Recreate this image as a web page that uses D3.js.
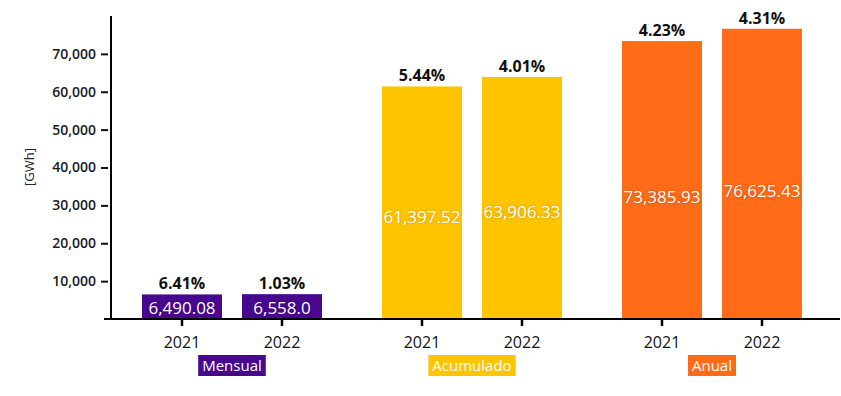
<!DOCTYPE html>
<html><head><meta charset="utf-8">
<script src="https://cdn.jsdelivr.net/npm/d3@7"></script>
<style>
html,body{margin:0;padding:0;background:#fff;}
svg{display:block;font-family:"Open Sans",sans-serif;}
.val{text-shadow:0 0 3px rgba(0,0,0,0.25);}
</style></head>
<body><svg id="c" width="841" height="396"></svg>
<script>
const groups = ["Mensual", "Acumulado", "Anual"];
const years = ["2021", "2022"];
const values = {
  Mensual: [6490.08, 6558.0],
  Acumulado: [61397.52, 63906.33],
  Anual: [73385.93, 76625.43]
};
const valueLabels = {
  Mensual: ["6,490.08", "6,558.0"],
  Acumulado: ["61,397.52", "63,906.33"],
  Anual: ["73,385.93", "76,625.43"]
};
const pctLabels = {
  Mensual: ["6.41%", "1.03%"],
  Acumulado: ["5.44%", "4.01%"],
  Anual: ["4.23%", "4.31%"]
};
const colors = {Mensual: "#48088e", Acumulado: "#ffc400", Anual: "#ff6b17"};
const yTicks = [10000, 20000, 30000, 40000, 50000, 60000, 70000];

const svg = d3.select("#c");
const y = d3.scaleLinear().domain([0, 80000]).range([319, 16]);
const xg = d3.scaleBand().domain(groups).range([112, 832]).paddingInner(0).paddingOuter(0);
const xi = d3.scaleBand().domain(years).range([0, xg.bandwidth()]).paddingInner(0.2).paddingOuter(0.3);
const cx = d => xg(d.g) + xi(d.yr) + xi.bandwidth() / 2;

const data = [];
groups.forEach(g => years.forEach((yr, i) => data.push({
  g, yr, v: values[g][i], lab: valueLabels[g][i], pct: pctLabels[g][i]
})));

// bars
svg.append("g").selectAll("rect").data(data).join("rect")
  .attr("x", d => xg(d.g) + xi(d.yr))
  .attr("width", xi.bandwidth())
  .attr("y", d => y(d.v))
  .attr("height", d => y(0) - y(d.v))
  .attr("fill", d => colors[d.g]);

// value labels
svg.append("g").selectAll("text").data(data).join("text")
  .attr("class", "val")
  .attr("x", cx)
  .attr("y", d => Math.max(y(d.v * 0.44), y(d.v) + 9))
  .attr("dy", "0.35em")
  .attr("text-anchor", "middle")
  .attr("fill", "#fff")
  .attr("font-size", 17)
  .text(d => d.lab);

// pct labels
svg.append("g").selectAll("text").data(data).join("text")
  .attr("x", cx)
  .attr("y", d => y(d.v) - 5)
  .attr("text-anchor", "middle")
  .attr("fill", "#111")
  .attr("font-size", 16)
  .attr("font-weight", 700)
  .text(d => d.pct);

// y axis
const yAxis = svg.append("g").attr("transform", "translate(111,0)")
  .call(d3.axisLeft(y).tickValues(yTicks).tickFormat(d3.format(",")).tickSize(0).tickPadding(15));
yAxis.select(".domain").remove();
yAxis.selectAll("text").attr("font-size", 14).attr("font-weight", 600).attr("fill", "#1a1a1a")
  .attr("font-family", "Open Sans, sans-serif");
yAxis.selectAll(".tick").append("line").attr("x1", -10).attr("x2", -3).attr("stroke", "#111").attr("stroke-width", 2);
svg.append("line").attr("x1", 111).attr("x2", 111).attr("y1", y.range()[1]).attr("y2", 320)
  .attr("stroke", "#000").attr("stroke-width", 2);

// x axis line
svg.append("line").attr("x1", 104).attr("x2", 840).attr("y1", 319).attr("y2", 319)
  .attr("stroke", "#000").attr("stroke-width", 2);

// x ticks & labels
const xt = svg.append("g");
xt.selectAll("line").data(data).join("line")
  .attr("x1", cx).attr("x2", cx)
  .attr("y1", 319).attr("y2", 326).attr("stroke", "#000").attr("stroke-width", 2.5);
xt.selectAll("text").data(data).join("text")
  .attr("x", cx)
  .attr("y", 348)
  .attr("text-anchor", "middle")
  .attr("font-size", 16)
  .attr("fill", "#111")
  .text(d => d.yr);

// group label boxes
const gl = svg.append("g").selectAll("g").data(groups).join("g");
gl.each(function(g) {
  const sel = d3.select(this);
  const gx = xg(g) + xg.bandwidth() / 2;
  const t = sel.append("text").attr("x", gx).attr("y", 371).attr("text-anchor", "middle")
    .attr("font-size", 15).attr("fill", "#fff").text(g);
  const bb = t.node().getBBox();
  sel.insert("rect", "text").attr("x", bb.x - 4).attr("width", bb.width + 8)
    .attr("y", 355).attr("height", 21).attr("fill", colors[g]);
});

// y label
svg.append("text").attr("transform", "translate(34,167) rotate(-90)")
  .attr("text-anchor", "middle").attr("font-size", 13).attr("fill", "#222").text("[GWh]");
</script></body></html>
